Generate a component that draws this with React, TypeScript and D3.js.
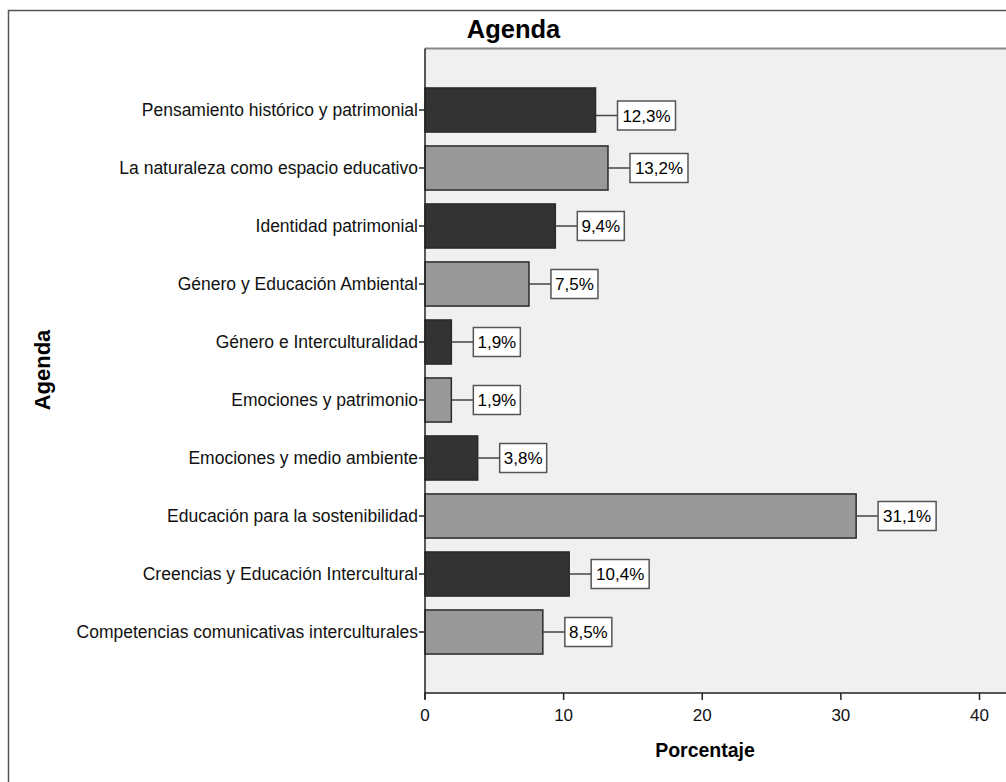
import React from "react";
import * as d3 from "d3";

const categories = [
  "Pensamiento histórico y patrimonial",
  "La naturaleza como espacio educativo",
  "Identidad patrimonial",
  "Género y Educación Ambiental",
  "Género e Interculturalidad",
  "Emociones y patrimonio",
  "Emociones y medio ambiente",
  "Educación para la sostenibilidad",
  "Creencias y Educación Intercultural",
  "Competencias comunicativas interculturales",
];
const percentages = [12.3, 13.2, 9.4, 7.5, 1.9, 1.9, 3.8, 31.1, 10.4, 8.5];
const xTicks = [0, 10, 20, 30, 40];

const W = 1006;
const H = 782;
const FONT = "'Liberation Sans', Arial, sans-serif";

export default function App() {
  const plotLeft = 425;
  const plotTop = 48.5;
  const plotBottom = 693;
  const x = d3.scaleLinear().domain([0, 45]).range([plotLeft, plotLeft + 45 * 13.8625]);
  const y = d3
    .scaleBand<string>()
    .domain(categories)
    .range([81, 661])
    .paddingInner(0.24)
    .paddingOuter(0.12);
  const fmt = (v: number) => v.toFixed(1).replace(".", ",") + "%";

  return (
    <svg
      width={W}
      height={H}
      style={{ position: "absolute", left: 0, top: 0, background: "#fff" }}
      fontFamily={FONT}
    >
      <rect x={8.5} y={10.5} width={1100} height={900} fill="#fff" stroke="#555" strokeWidth={1.5} />
      <text x={513.5} y={38} textAnchor="middle" fontSize={25.5} fontWeight="bold" fill="#000">
        Agenda
      </text>
      <rect x={plotLeft} y={plotTop} width={700} height={plotBottom - plotTop} fill="#f0f0f0" />
      <line x1={plotLeft} x2={W} y1={plotTop} y2={plotTop} stroke="#888" strokeWidth={2} />
      {categories.map((c, i) => {
        const y0 = y(c)!;
        const bw = y.bandwidth();
        const xe = x(percentages[i]);
        const cy = y0 + bw / 2 + (i === 0 ? 5.5 : 0);
        const label = fmt(percentages[i]);
        const boxW = label.length === 5 ? 58 : 47;
        const gap = 22;
        return (
          <g key={c}>
            <rect
              x={plotLeft}
              y={y0}
              width={xe - plotLeft}
              height={bw}
              fill={i % 2 === 0 ? "#333333" : "#999999"}
              stroke="#2a2a2a"
              strokeWidth={1.5}
            />
            <line x1={xe} x2={xe + gap} y1={cy} y2={cy} stroke="#444" strokeWidth={1.5} />
            <rect
              x={xe + gap}
              y={cy - 14.5}
              width={boxW}
              height={29}
              fill="#fff"
              stroke="#555"
              strokeWidth={1.5}
            />
            <text
              x={xe + gap + boxW / 2}
              y={cy}
              dy="0.36em"
              textAnchor="middle"
              fontSize={17}
              fill="#000"
            >
              {label}
            </text>
            <line
              x1={plotLeft - 6}
              x2={plotLeft}
              y1={y0 + bw / 2}
              y2={y0 + bw / 2}
              stroke="#222"
              strokeWidth={1.5}
            />
            <text
              x={plotLeft - 7}
              y={y0 + bw / 2}
              dy="0.36em"
              textAnchor="end"
              fontSize={17.5}
              fill="#111"
            >
              {c}
            </text>
          </g>
        );
      })}
      <line x1={plotLeft} x2={plotLeft} y1={plotTop} y2={plotBottom + 6} stroke="#222" strokeWidth={1.5} />
      <line x1={plotLeft} x2={W} y1={plotBottom} y2={plotBottom} stroke="#222" strokeWidth={1.5} />
      {xTicks.map((t) => (
        <g key={t}>
          <line x1={x(t)} x2={x(t)} y1={plotBottom} y2={plotBottom + 7} stroke="#222" strokeWidth={1.5} />
          <text x={x(t)} y={721} textAnchor="middle" fontSize={17} fill="#111">
            {t}
          </text>
        </g>
      ))}
      <text x={705} y={757} textAnchor="middle" fontSize={19.5} fontWeight="bold" fill="#000">
        Porcentaje
      </text>
      <text
        transform="translate(50,370) rotate(-90)"
        textAnchor="middle"
        fontSize={22}
        fontWeight="bold"
        fill="#000"
      >
        Agenda
      </text>
    </svg>
  );
}
